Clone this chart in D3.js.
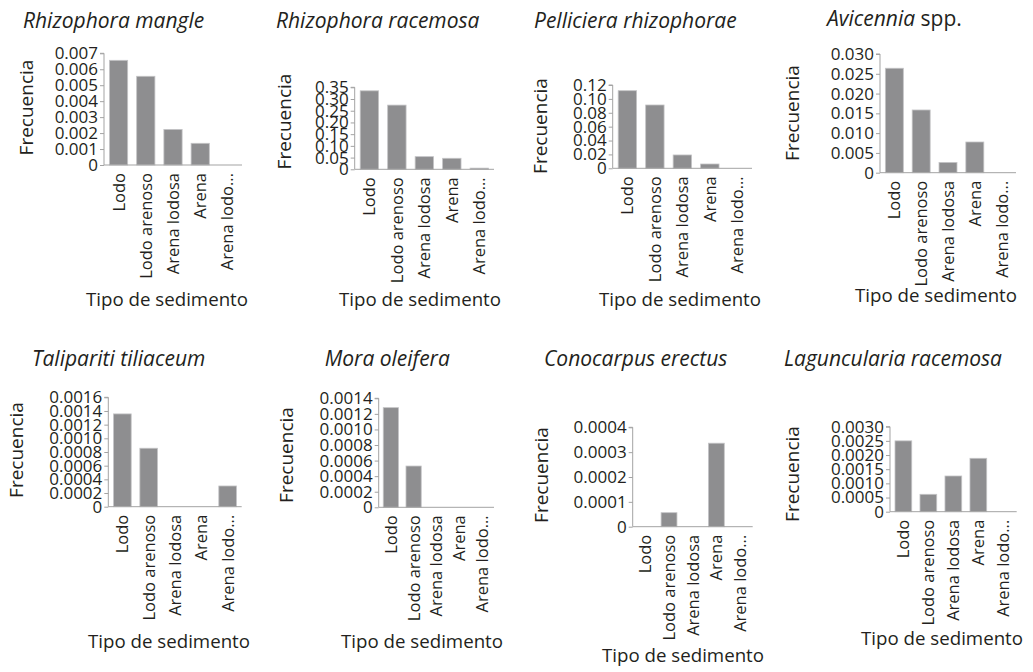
<!DOCTYPE html>
<html><head><meta charset="utf-8">
<script src="https://cdn.jsdelivr.net/npm/d3@7"></script>
<style>
body{margin:0;background:#fff;}
svg{display:block;}
text{font-family:"Open Sans",sans-serif;fill:#231f20;}
</style></head>
<body>
<svg id="chart" width="1033" height="672"></svg>
<script>
// ---- data ----
const categories = ["Lodo", "Lodo arenoso", "Arena lodosa", "Arena", "Arena lodo..."];
const species = ["Rhizophora mangle", "Rhizophora racemosa", "Pelliciera rhizophorae", "Avicennia", "Talipariti tiliaceum", "Mora oleifera", "Conocarpus erectus", "Laguncularia racemosa"];
const rhizophoraMangle     = [0.00656, 0.00556, 0.00223, 0.00136, 0];
const rhizophoraRacemosa   = [0.335, 0.274, 0.054, 0.047, 0.005];
const pellicieraRhizophorae= [0.1118, 0.0912, 0.0192, 0.0062, 0];
const avicennia            = [0.0264, 0.01585, 0.0026, 0.00776, 0];
const talipariti           = [0.001357, 0.000855, 0, 0, 0.000303];
const moraOleifera         = [0.00128, 0.00053, 0, 0, 0];
const conocarpusErectus    = [0, 0.0000564, 0, 0.000336, 0];
const lagunculariaRacemosa = [0.0025, 0.000614, 0.00126, 0.001885, 0];
const ticks1 = ["0","0.001","0.002","0.003","0.004","0.005","0.006","0.007"];
const ticks2 = ["0","0.05","0.10","0.15","0.20","0.25","0.30","0.35"];
const ticks3 = ["0","0.02","0.04","0.06","0.08","0.10","0.12"];
const ticks4 = ["0","0.005","0.010","0.015","0.020","0.025","0.030"];
const ticks5 = ["0","0.0002","0.0004","0.0006","0.0008","0.0010","0.0012","0.0014","0.0016"];
const ticks6 = ["0","0.0002","0.0004","0.0006","0.0008","0.0010","0.0012","0.0014"];
const ticks7 = ["0","0.0001","0.0002","0.0003","0.0004"];
const ticks8 = ["0","0.0005","0.0010","0.0015","0.0020","0.0025","0.0030"];
const yTitle = "Frecuencia";
const xTitle = "Tipo de sedimento";

const seriesList = [rhizophoraMangle, rhizophoraRacemosa, pellicieraRhizophorae, avicennia, talipariti, moraOleifera, conocarpusErectus, lagunculariaRacemosa];
const tickList = [ticks1, ticks2, ticks3, ticks4, ticks5, ticks6, ticks7, ticks8];

// ---- layout (positions only) ----
const layout = [
 {ax:104,   ae:242,   yt:53.3,  yb:165,   tx:23,    ty:28,  fx:33,  fy:107.5, xx:167, xy:306},
 {ax:354.7, ae:494,   yt:87.3,  yb:169.3, tx:276,   ty:28,  fx:291, fy:121.5, xx:420, xy:306},
 {ax:612.7, ae:752,   yt:85,    yb:168.3, tx:534,   ty:28,  fx:547, fy:126,   xx:680, xy:306},
 {ax:880,   ae:1016,  yt:54,    yb:172.7, tx:827,   ty:26,  fx:799, fy:113,   xx:936, xy:302},
 {ax:108.3, ae:241.7, yt:397.3, yb:506.7, tx:32,    ty:366, fx:23,  fy:450,   xx:169, xy:648},
 {ax:378.7, ae:494,   yt:398.3, yb:507.3, tx:324.7, ty:366, fx:293, fy:455,   xx:422, xy:648},
 {ax:632.7, ae:752.7, yt:427.3, yb:526.7, tx:544,   ty:366, fx:548, fy:475,   xx:683, xy:661.7},
 {ax:890,   ae:1016.7,yt:426.7, yb:511.7, tx:784,   ty:366, fx:799, fy:474,   xx:942, xy:645}
];

const svg = d3.select("#chart");
const axisColor = "#a3a3a3";
const barFill = "#8e8e90";

seriesList.forEach((vals, i) => {
  const L = layout[i];
  const ticks = tickList[i];
  const tickVals = ticks.map(Number);
  const g = svg.append("g");
  const x = d3.scaleBand().domain(categories).range([L.ax, L.ae]).paddingInner(0.33).paddingOuter(0.2);
  const y = d3.scaleLinear().domain([0, d3.max(tickVals)]).range([L.yb, L.yt]);

  // title
  const t = g.append("text").attr("x", L.tx).attr("y", L.ty).style("font-size", "21px");
  if (species[i] === "Avicennia") {
    t.append("tspan").style("font-style", "italic").text("Avicennia");
    t.append("tspan").text(" spp.");
  } else {
    t.style("font-style", "italic").text(species[i]);
  }

  // bars
  g.selectAll("rect.bar").data(vals).enter().append("rect")
    .attr("x", (d, j) => x(categories[j]))
    .attr("width", x.bandwidth())
    .attr("y", d => y(d))
    .attr("height", d => y(0) - y(d))
    .attr("fill", barFill)
    .attr("stroke", "#c4c4c6").attr("stroke-width", 0.8);

  // y axis
  const ya = g.append("g").attr("transform", `translate(${L.ax},0)`)
    .call(d3.axisLeft(y).tickValues(tickVals).tickFormat((d, k) => ticks[k]).tickSize(4).tickPadding(2));
  ya.select(".domain").attr("stroke", axisColor).attr("d", `M-4,${L.yt}H0V${L.yb}`);
  ya.selectAll(".tick line").attr("stroke", axisColor);
  ya.selectAll(".tick text").style("font-size", "17px").style("font-family", "'Open Sans',sans-serif").attr("fill", "#231f20");

  // x axis
  g.append("line").attr("x1", L.ax).attr("x2", L.ae).attr("y1", L.yb).attr("y2", L.yb)
    .attr("stroke", axisColor).attr("stroke-width", 1);
  g.selectAll("text.cat").data(categories).enter().append("text")
    .attr("class", "cat")
    .attr("transform", d => `translate(${x(d) + x.bandwidth() / 2},${L.yb + 8}) rotate(-90)`)
    .attr("text-anchor", "end").attr("dy", "0.36em")
    .style("font-size", "16.5px").text(d => d);

  // axis titles
  g.append("text").attr("transform", `translate(${L.fx},${L.fy}) rotate(-90)`)
    .attr("text-anchor", "middle").style("font-size", "19px").text(yTitle);
  g.append("text").attr("x", L.xx).attr("y", L.xy).attr("text-anchor", "middle")
    .style("font-size", "18.7px").text(xTitle);
});
</script>
</body></html>
